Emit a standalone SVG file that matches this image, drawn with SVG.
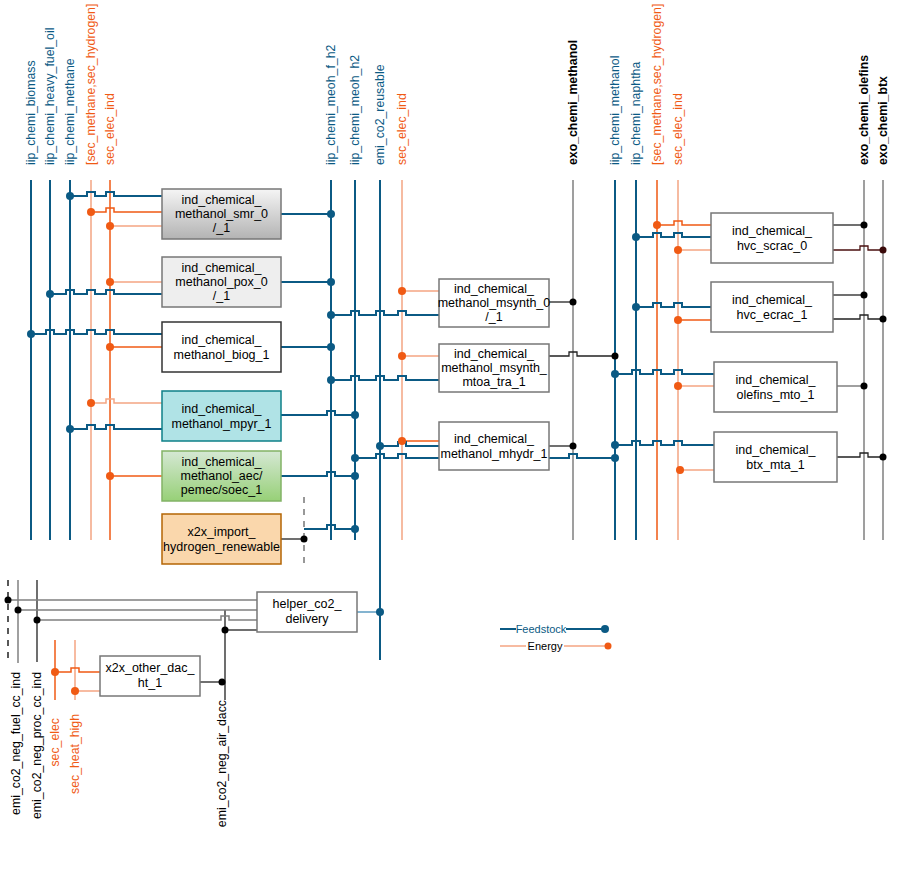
<svg xmlns="http://www.w3.org/2000/svg" width="920" height="877" viewBox="0 0 920 877">
<defs>
<linearGradient id="gGray" x1="0" y1="0" x2="0" y2="1"><stop offset="0" stop-color="#f5f5f5"/><stop offset="1" stop-color="#b3b3b3"/></linearGradient>
<linearGradient id="gGreen" x1="0" y1="0" x2="0" y2="1"><stop offset="0" stop-color="#d5e8d4"/><stop offset="1" stop-color="#97d077"/></linearGradient>
</defs>
<style>
.b{fill:none;stroke:#0b5a84;stroke-width:2}
.o{fill:none;stroke:#f05a14;stroke-width:1.5}
.ol{fill:none;stroke:#f4a582;stroke-width:1.5}
.k{fill:none;stroke:#222;stroke-width:1.3}
.g{fill:none;stroke:#808080;stroke-width:1.5}
.db{fill:#0b5a84}.do{fill:#f05a14}.dk{fill:#000}
.box{stroke:#777;stroke-width:1.5;fill:#fff}
text{font-family:"Liberation Sans",Arial,sans-serif;font-size:12.3px}
.n{font-size:12.5px;text-anchor:middle;fill:#000}
.lb{fill:#0b5a84}.lo{fill:#f05a14}.lk{fill:#000;font-weight:bold}.ln{fill:#000}
</style>
<g id="connectors">
<path class="b" d="M31 180V540M50 180V540M70 180V540M331 180V540M355 180V540M380 180V660M615 180V540M636 180V540"/>
<path class="ol" d="M91 180V540M402 180V540M678 180V540"/>
<path class="o" d="M110 180V540M657 180V540"/>
<path class="g" d="M573 180V540M864 180V540M883 180V540"/>
<path d="M304 497V566" stroke="#777" stroke-width="1.5" stroke-dasharray="6,6" fill="none"/>
<path class="b" d="M70 196H87v-4h8v4H106v-4h8v4H162"/>
<path class="o" d="M91 212H106v-4h8v4H162"/>
<path class="ol" d="M110 226H162"/>
<path class="b" d="M281 214H331"/>
<path class="ol" d="M110 282H162"/>
<path class="b" d="M50 294H66v-4h8v4H87v-4h8v4H106v-4h8v4H162"/>
<path class="b" d="M281 282H331"/>
<path class="b" d="M31 334H46v-4h8v4H66v-4h8v4H87v-4h8v4H106v-4h8v4H162"/>
<path class="o" d="M110 347H162"/>
<path class="b" d="M281 347H331"/>
<path class="ol" d="M91 403H106v-4h8v4H162"/>
<path class="b" d="M70 429H87v-4h8v4H106v-4h8v4H162"/>
<path class="b" d="M281 415H327v-4h8v4H355"/>
<path class="o" d="M110 476H162"/>
<path class="b" d="M281 476H327v-4h8v4H355"/>
<path class="k" d="M281 539H304"/>
<path class="b" d="M304 529H327v-4h8v4H355"/>
<path class="b" d="M331 315H351v-4h8v4H376v-4h8v4H398v-4h8v4H439"/>
<path class="ol" d="M402 291H439"/>
<path class="k" d="M549 302H573"/>
<path class="b" d="M331 380H351v-4h8v4H376v-4h8v4H398v-4h8v4H439"/>
<path class="ol" d="M402 356H439"/>
<path class="k" d="M549 356H569v-4h8v4H615"/>
<path class="o" d="M402 441H439"/>
<path class="b" d="M380 446H398v-4h8v4H439"/>
<path class="b" d="M355 458H376v-4h8v4H398v-4h8v4H439"/>
<path class="k" d="M549 446H573"/>
<path class="b" d="M549 458H569v-4h8v4H615"/>
<path class="o" d="M657 225H674v-4h8v4H711"/>
<path class="b" d="M636 237H653v-4h8v4H674v-4h8v4H711"/>
<path class="ol" d="M678 250H711"/>
<path class="k" d="M833 225H864"/>
<path fill="none" stroke="#4a0f0f" stroke-width="1.3" d="M833 250H860v-4h8v4H883"/>
<path class="b" d="M636 307H653v-4h8v4H674v-4h8v4H711"/>
<path class="o" d="M678 320H711"/>
<path class="k" d="M833 295H864"/>
<path class="k" d="M833 319H860v-4h8v4H883"/>
<path class="b" d="M615 374H632v-4h8v4H653v-4h8v4H674v-4h8v4H714"/>
<path class="ol" d="M678 386H714"/>
<path class="g" d="M837 386H864"/>
<path class="b" d="M615 445H632v-4h8v4H653v-4h8v4H674v-4h8v4H714"/>
<path class="ol" d="M678 470H714"/>
<path class="k" d="M837 457H860v-4h8v4H883"/>
<path d="M8 580V662" stroke="#222" stroke-width="1.5" stroke-dasharray="6,6" fill="none"/>
<path class="g" d="M18 580V663"/>
<path class="k" d="M37 580V662M225 610V700"/>
<path class="ol" d="M75 640V700"/>
<path class="o" d="M55 640V700"/>
<path class="g" d="M8 600H257M18 610H257"/>
<path class="g" d="M37 620H221v-4h8v4H257"/>
<path class="k" d="M225 630H257"/>
<path class="k" d="M200 682H225"/>
<path fill="none" stroke="#5b9bc0" stroke-width="1.5" d="M357 612H380"/>
<path class="o" d="M55 672H71v-4h8v4H100"/>
<path class="ol" d="M75 691H100"/>
<g class="db">
<circle cx="70" cy="196" r="4"/><circle cx="331" cy="214" r="4"/><circle cx="50" cy="294" r="4"/><circle cx="331" cy="282" r="4"/>
<circle cx="31" cy="334" r="4"/><circle cx="331" cy="347" r="4"/><circle cx="70" cy="429" r="4"/><circle cx="355" cy="415" r="4"/>
<circle cx="355" cy="476" r="4"/><circle cx="355" cy="529" r="4"/><circle cx="331" cy="315" r="4"/><circle cx="331" cy="380" r="4"/>
<circle cx="380" cy="446" r="4"/><circle cx="355" cy="458" r="4"/><circle cx="615" cy="458" r="4"/><circle cx="636" cy="237" r="4"/>
<circle cx="636" cy="307" r="4"/><circle cx="615" cy="374" r="4"/><circle cx="615" cy="445" r="4"/><circle cx="380" cy="612" r="4"/>
</g>
<g class="do">
<circle cx="91" cy="212" r="4"/><circle cx="110" cy="226" r="4"/><circle cx="110" cy="282" r="4"/><circle cx="110" cy="347" r="4"/>
<circle cx="91" cy="403" r="4"/><circle cx="110" cy="476" r="4"/><circle cx="402" cy="291" r="4"/><circle cx="402" cy="356" r="4"/>
<circle cx="402" cy="441" r="4"/><circle cx="657" cy="225" r="4"/><circle cx="678" cy="250" r="4"/><circle cx="678" cy="320" r="4"/>
<circle cx="678" cy="386" r="4"/><circle cx="680" cy="470" r="4"/><circle cx="55" cy="672" r="4"/><circle cx="75" cy="691" r="4"/>
</g>
<g class="dk">
<circle cx="304" cy="539" r="3.5"/><circle cx="573" cy="302" r="3.5"/><circle cx="615" cy="356" r="3.5"/><circle cx="573" cy="446" r="3.5"/>
<circle cx="864" cy="225" r="3.5"/><circle cx="883" cy="250" r="3.5" fill="#3a0a0a"/><circle cx="864" cy="295" r="3.5"/><circle cx="883" cy="319" r="3.5"/>
<circle cx="864" cy="386" r="3.5"/><circle cx="883" cy="457" r="3.5"/><circle cx="8" cy="600" r="3.5"/><circle cx="18" cy="610" r="3.5"/>
<circle cx="37" cy="620" r="3.5"/><circle cx="225" cy="630" r="3.5"/><circle cx="222" cy="682" r="3.5"/>
</g>
</g>
<g id="labels">
<text class="lb" transform="translate(35,165) rotate(-90)">iip_chemi_biomass</text>
<text class="lb" transform="translate(54,165) rotate(-90)">iip_chemi_heavy_fuel_oil</text>
<text class="lb" transform="translate(74,165) rotate(-90)">iip_chemi_methane</text>
<text class="lo" transform="translate(95,165) rotate(-90)">[sec_methane,sec_hydrogen]</text>
<text class="lo" transform="translate(114,165) rotate(-90)">sec_elec_ind</text>
<text class="lb" transform="translate(335,165) rotate(-90)">iip_chemi_meoh_f_h2</text>
<text class="lb" transform="translate(359,165) rotate(-90)">iip_chemi_meoh_h2</text>
<text class="lb" transform="translate(384,165) rotate(-90)">emi_co2_reusable</text>
<text class="lo" transform="translate(406,165) rotate(-90)">sec_elec_ind</text>
<text class="lk" transform="translate(577,165) rotate(-90)">exo_chemi_methanol</text>
<text class="lb" transform="translate(619,165) rotate(-90)">iip_chemi_methanol</text>
<text class="lb" transform="translate(640,165) rotate(-90)">iip_chemi_naphtha</text>
<text class="lo" transform="translate(661,165) rotate(-90)">[sec_methane,sec_hydrogen]</text>
<text class="lo" transform="translate(682,165) rotate(-90)">sec_elec_ind</text>
<text class="lk" transform="translate(868,165) rotate(-90)">exo_chemi_olefins</text>
<text class="lk" transform="translate(887,165) rotate(-90)">exo_chemi_btx</text>
<text class="ln" text-anchor="end" transform="translate(20,672) rotate(-90)">emi_co2_neg_fuel_cc_ind</text>
<text class="ln" text-anchor="end" transform="translate(41,672) rotate(-90)">emi_co2_neg_proc_cc_ind</text>
<text class="lo" text-anchor="end" transform="translate(59,718) rotate(-90)">sec_elec</text>
<text class="lo" text-anchor="end" transform="translate(79,714) rotate(-90)">sec_heat_high</text>
<text class="ln" text-anchor="end" transform="translate(226,700) rotate(-90)">emi_co2_neg_air_dacc</text>
</g>
<g id="n_smr"><rect class="box" x="162" y="189" width="119" height="50" style="fill:url(#gGray)"/><text class="n" x="221.5" y="204">ind_chemical_</text><text class="n" x="221.5" y="218">methanol_smr_0</text><text class="n" x="221.5" y="232">/_1</text></g>
<g id="n_pox"><rect class="box" x="162" y="257" width="119" height="50" style="fill:#eeeeee"/><text class="n" x="221.5" y="272">ind_chemical_</text><text class="n" x="221.5" y="286">methanol_pox_0</text><text class="n" x="221.5" y="300">/_1</text></g>
<g id="n_biog"><rect class="box" x="162" y="322" width="119" height="50" style="stroke:#333"/><text class="n" x="221.5" y="344">ind_chemical_</text><text class="n" x="221.5" y="359">methanol_biog_1</text></g>
<g id="n_mpyr"><rect class="box" x="162" y="391" width="119" height="50" style="fill:#b0e3e6;stroke:#0e8088"/><text class="n" x="221.5" y="413">ind_chemical_</text><text class="n" x="221.5" y="428">methanol_mpyr_1</text></g>
<g id="n_aec"><rect class="box" x="162" y="451" width="119" height="50" style="stroke:#82b366;fill:url(#gGreen)"/><text class="n" x="221.5" y="466">ind_chemical_</text><text class="n" x="221.5" y="480">methanol_aec/</text><text class="n" x="221.5" y="494">pemec/soec_1</text></g>
<g id="n_import"><rect class="box" x="162" y="514" width="119" height="50" style="fill:#fad7ac;stroke:#b46504"/><text class="n" x="221.5" y="536">x2x_import_</text><text class="n" x="221.5" y="551">hydrogen_renewable</text></g>
<g id="n_msynth0"><rect class="box" x="439" y="279" width="110" height="48"/><text class="n" x="494" y="293">ind_chemical_</text><text class="n" x="494" y="307">methanol_msynth_0</text><text class="n" x="494" y="321">/_1</text></g>
<g id="n_mtoa"><rect class="box" x="439" y="344" width="110" height="48"/><text class="n" x="494" y="358">ind_chemical_</text><text class="n" x="494" y="372">methanol_msynth_</text><text class="n" x="494" y="386">mtoa_tra_1</text></g>
<g id="n_mhydr"><rect class="box" x="439" y="422" width="110" height="48"/><text class="n" x="494" y="443">ind_chemical_</text><text class="n" x="494" y="458">methanol_mhydr_1</text></g>
<g id="n_scrac"><rect class="box" x="711" y="213" width="122" height="50"/><text class="n" x="772" y="235">ind_chemical_</text><text class="n" x="772" y="250">hvc_scrac_0</text></g>
<g id="n_ecrac"><rect class="box" x="711" y="282" width="122" height="50"/><text class="n" x="772" y="304">ind_chemical_</text><text class="n" x="772" y="319">hvc_ecrac_1</text></g>
<g id="n_mto"><rect class="box" x="714" y="362" width="123" height="50"/><text class="n" x="775.5" y="384">ind_chemical_</text><text class="n" x="775.5" y="399">olefins_mto_1</text></g>
<g id="n_btx"><rect class="box" x="714" y="432" width="123" height="50"/><text class="n" x="775.5" y="454">ind_chemical_</text><text class="n" x="775.5" y="469">btx_mta_1</text></g>
<g id="n_helper"><rect class="box" x="257" y="592" width="100" height="40"/><text class="n" x="307" y="608">helper_co2_</text><text class="n" x="307" y="623">delivery</text></g>
<g id="n_dac"><rect class="box" x="100" y="656" width="100" height="40"/><text class="n" x="150" y="672">x2x_other_dac_</text><text class="n" x="150" y="687">ht_1</text></g>
<g id="legend">
<path class="b" d="M500 629H605"/><circle class="db" cx="605" cy="629" r="4"/>
<rect x="516" y="623" width="50" height="12" fill="#fff"/>
<text x="541" y="633" text-anchor="middle" style="fill:#0b5a84;font-size:11px">Feedstock</text>
<path class="ol" d="M500 646H608"/><circle class="do" cx="608" cy="646" r="3.5"/>
<rect x="526" y="640" width="38" height="12" fill="#fff"/>
<text x="545" y="650" text-anchor="middle" style="font-size:11px">Energy</text>
</g>
</svg>
